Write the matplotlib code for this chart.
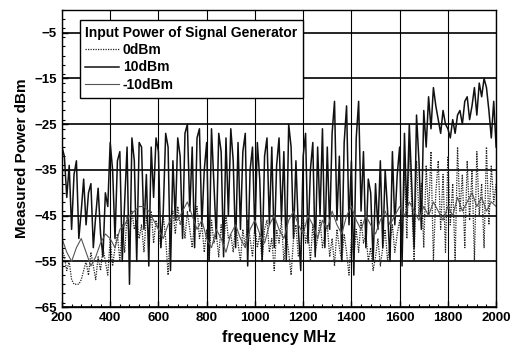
import numpy as np
import matplotlib
matplotlib.use('Agg')
import matplotlib.pyplot as plt
from matplotlib.ticker import MultipleLocator

plt.rcParams['font.family'] = ['Liberation Sans', 'DejaVu Sans']
plt.rcParams['font.weight'] = 'bold'

# frequency grids (MHz)
freq_fine = list(range(200, 2001, 10))
freq_coarse = list(range(200, 2001, 20))

# 10dBm, solid black (10 MHz steps)
p_10dbm = [
    -30, -32, -41, -34, -48, -36, -33, -50, -44, -37,
    -47, -40, -38, -52, -45, -39, -49, -54, -40, -43,
    -29, -35, -50, -33, -31, -55, -42, -30, -60, -28,
    -33, -55, -29, -30, -48, -36, -56, -30, -41, -28,
    -31, -52, -44, -27, -30, -57, -33, -46, -28, -32,
    -50, -27, -25, -44, -30, -52, -28, -26, -47, -35,
    -29, -55, -26, -38, -50, -27, -31, -54, -28, -45,
    -26, -33, -52, -29, -48, -31, -27, -56, -35, -30,
    -49, -29, -37, -55, -32, -28, -47, -30, -52, -34,
    -28, -46, -31, -55, -25, -30, -50, -33, -48, -57,
    -32, -27, -51, -35, -29, -54, -30, -45, -26, -52,
    -30, -48, -27, -20, -46, -32, -55, -29, -21, -47,
    -33, -58, -28, -20, -44, -31, -52, -37, -40, -55,
    -38, -48, -33, -52, -35, -44, -55, -31, -47, -36,
    -30, -56, -27, -45, -25, -38, -52, -23, -33, -48,
    -22, -30, -19, -26, -17, -21, -24, -27, -22, -25,
    -26, -28, -24, -27, -23, -22, -25, -20, -19, -24,
    -21, -17, -23, -16, -19, -15, -17, -22, -28, -20,
    -30,
]

# 0dBm, dotted (10 MHz steps)
p_0dbm = [
    -52, -54, -57, -55, -59, -60, -60, -60, -59, -57,
    -55, -58, -53, -56, -59, -54, -57, -52, -55, -58,
    -50, -56, -52, -49, -55, -47, -53, -45, -50, -44,
    -48, -46, -50, -47, -53, -45, -49, -44, -51, -46,
    -48, -52, -45, -50, -58, -46, -44, -49, -43, -47,
    -45, -50, -44, -48, -52, -46, -43, -50, -47, -53,
    -48, -55, -46, -51, -49, -54, -47, -52, -45, -50,
    -49, -53, -47, -51, -55, -48, -52, -46, -50, -54,
    -47, -52, -49, -55, -48, -46, -53, -50, -57, -48,
    -51, -46, -55, -49, -53, -58, -50, -47, -54, -52,
    -45, -51, -48, -55, -47, -53, -50, -46, -52, -49,
    -47, -54, -50, -56, -48, -52, -55, -49, -53, -58,
    -50, -54, -48, -53, -46, -51, -49, -55, -52, -57,
    -54, -50, -56, -52, -48, -55, -51, -47, -53, -49,
    -46, -52, -35, -50, -30, -42, -55, -33, -45, -38,
    -52, -34, -45, -31, -55, -40, -33, -48, -36, -53,
    -32, -47, -38, -55, -30, -44, -36, -52, -33, -46,
    -35, -55, -31, -45, -38, -52, -30, -47, -34, -42,
    -38,
]

# -10dBm, thin grey (20 MHz steps)
p_m10dbm = [
    -50, -53, -55, -52, -50, -53, -56, -54, -51, -49,
    -50, -52, -48, -47, -45, -44, -43, -43, -44, -46,
    -48, -50, -47, -45, -46, -44, -42, -45, -48, -46,
    -50, -52, -48, -50, -53, -49, -47, -50, -52, -48,
    -46, -49, -51, -47, -45, -48, -50, -46, -44, -47,
    -49, -45, -47, -50, -46, -48, -44, -47, -49, -45,
    -43, -46, -48, -45, -47, -49, -46, -44, -47, -45,
    -43, -45, -42, -44, -46, -43, -45, -42, -44, -46,
    -43, -45, -41, -44, -42, -40, -43, -41, -44, -42,
    -43,
]

fig = plt.figure(figsize=(5.12, 3.53), dpi=100)
ax = fig.add_axes([0.121, 0.130, 0.848, 0.842])

l1 = ax.plot(freq_fine, p_0dbm, color='#222222', linestyle=(0, (1, 1)), linewidth=0.9, label='0dBm')
l2 = ax.plot(freq_fine, p_10dbm, color='#111111', linestyle='-', linewidth=1.1, label='10dBm')
l3 = ax.plot(freq_coarse, p_m10dbm, color='#555555', linestyle='-', linewidth=0.8, label='-10dBm')

ax.set_xlim([200, 2000])
ax.set_ylim([-65, 0])
ax.set_xticks(list(range(200, 2001, 200)))
ax.set_yticks(list(range(-65, 0, 10)))
ax.xaxis.set_minor_locator(MultipleLocator(40))
ax.yaxis.set_minor_locator(MultipleLocator(2))
ax.tick_params(which='both', direction='in', top=False, right=False)
ax.tick_params(which='major', length=4, width=1, labelsize=9.5)
ax.tick_params(which='minor', length=2, width=0.8)

ax.xaxis.grid(True, color='black', linewidth=0.8)
ax.yaxis.grid(True, color='black', linewidth=1.2)
for s in ax.spines.values():
    s.set_linewidth(1.0)

ax.set_xlabel('frequency MHz', fontsize=11.5, fontweight='bold', labelpad=4)
ax.set_ylabel('Measured Power dBm', fontsize=11, fontweight='bold', labelpad=4)

lns = l1 + l2 + l3
leg = ax.legend(lns, [l.get_label() for l in lns], loc='upper left', bbox_to_anchor=(0.041, 0.966),
                title='Input Power of Signal Generator', fancybox=False, framealpha=1,
                edgecolor='black', borderaxespad=0, handlelength=2.4, handletextpad=0.3,
                labelspacing=0.25, borderpad=0.4, prop={'size': 10, 'weight': 'bold'},
                title_fontproperties={'size': 10, 'weight': 'bold'})
leg._legend_box.align = 'left'
leg.get_frame().set_linewidth(1.0)

fig.savefig('out.png', dpi=100)
